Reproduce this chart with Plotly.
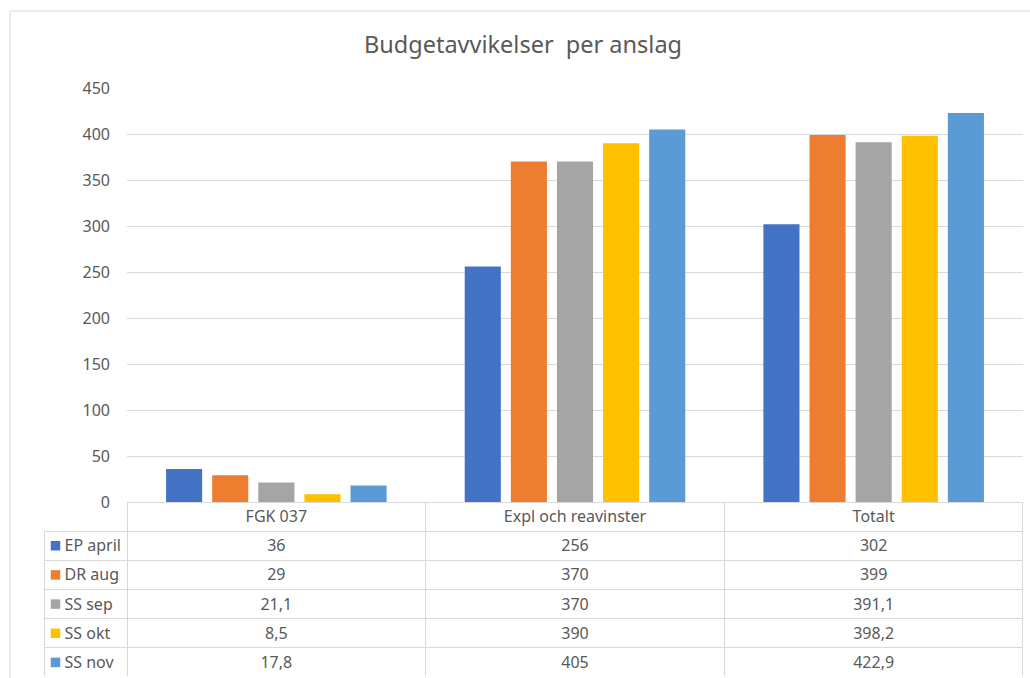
import plotly.graph_objects as go

categories = ["FGK 037", "Expl och reavinster", "Totalt"]
series_names = ["EP april", "DR aug", "SS sep", "SS okt", "SS nov"]
ep_april = [36, 256, 302]
dr_aug = [29, 370, 399]
ss_sep = [21.1, 370, 391.1]
ss_okt = [8.5, 390, 398.2]
ss_nov = [17.8, 405, 422.9]
colors = ["#4472C4", "#ED7D31", "#A5A5A5", "#FFC000", "#5B9BD5"]
y_ticks = [0, 50, 100, 150, 200, 250, 300, 350, 400, 450]

series_values = [ep_april, dr_aug, ss_sep, ss_okt, ss_nov]

W, H = 1030, 678
ML, MR, MT, MB = 44, 7, 88, 1
plot_w = W - ML - MR
plot_h = H - MT - MB
x_start_px = 127
base_px = 502
x_dom0 = (x_start_px - ML) / plot_w
y_dom0 = (H - MB - base_px) / plot_h
n_rows = len(series_names) + 1
row_h = (H - MB - base_px) / n_rows

TXT = "#595959"
GRID = "#d9d9d9"
FONT = "Noto Sans"
NB = "\u00a0"
FS = 16

fig = go.Figure()
for name, vals, col in zip(series_names, series_values, colors):
    fig.add_trace(go.Bar(x=categories, y=vals, name=name, marker=dict(color=col, line=dict(width=0)),
                         xaxis="x", yaxis="y", showlegend=False))

def fmt(v):
    return ("%g" % v).replace(".", ",")

row_labels = [NB * 3 + n.replace(" ", NB) for n in series_names]
cols = [row_labels]
for ci in range(len(categories)):
    cols.append([fmt(s[ci]) for s in series_values])

cw = (W - MR - x_start_px) / 3
fig.add_trace(go.Table(
    domain=dict(x=[0, 1], y=[0, y_dom0]),
    columnwidth=[x_start_px - ML, cw, cw, cw],
    header=dict(values=[""] + categories,
                align=["left", "center", "center", "center"],
                fill=dict(color="rgba(0,0,0,0)"),
                line=dict(color=["white", GRID, GRID, GRID], width=[0, 1, 1, 1]),
                font=dict(family=FONT, size=FS, color=TXT),
                height=row_h),
    cells=dict(values=cols,
               align=["left", "center", "center", "center"],
               fill=dict(color="rgba(0,0,0,0)"),
               line=dict(color=GRID, width=1),
               font=dict(family=FONT, size=FS, color=TXT),
               height=row_h),
))

# legend keys of the data table, on a hidden axis pair spanning the table's first column
fig.add_trace(go.Scatter(
    x=[11.5] * len(series_names), y=[i + 0.5 for i in range(len(series_names))],
    mode="markers", marker=dict(symbol="square", size=9.5, color=colors, line=dict(width=0)),
    xaxis="x2", yaxis="y2", showlegend=False, hoverinfo="skip", cliponaxis=False))

# outer chart border (left and top)
bx = (10 - ML) / plot_w
by = (H - MB - 11) / plot_h
fig.add_shape(type="line", xref="paper", yref="paper", x0=bx, x1=bx, y0=-0.01, y1=by,
              line=dict(color=GRID, width=1))
fig.add_shape(type="line", xref="paper", yref="paper", x0=bx, x1=1.02, y0=by, y1=by,
              line=dict(color=GRID, width=1))

fig.update_layout(
    template="none",
    width=W, height=H, autosize=False,
    margin=dict(l=ML, r=MR, t=MT, b=MB, pad=0, autoexpand=False),
    paper_bgcolor="white", plot_bgcolor="white",
    barmode="group", bargap=0.228, bargroupgap=0.217,
    title=dict(text="Budgetavvikelser" + NB + " per anslag", x=523 / W, xref="container", xanchor="center",
               y=1 - 45 / H, yref="container", yanchor="middle",
               font=dict(family=FONT, size=23.5, color=TXT)),
    font=dict(family=FONT, color=TXT),
    xaxis=dict(domain=[x_dom0, 1], anchor="y", showticklabels=False, showgrid=False, automargin=False,
               showline=True, linecolor=GRID, linewidth=1, ticks="", zeroline=False),
    yaxis=dict(domain=[y_dom0, 1], anchor="x", range=[0, 450], tickvals=y_ticks, automargin=False,
               showgrid=True, gridcolor=GRID, gridwidth=1, zeroline=False, showline=False,
               ticks="", ticklabelstandoff=16, tickfont=dict(family=FONT, size=FS, color=TXT)),
    xaxis2=dict(domain=[0, x_dom0], anchor="y2", range=[0, x_start_px - ML], visible=False, automargin=False),
    yaxis2=dict(domain=[0, y_dom0], anchor="x2", range=[len(series_names), -1], visible=False, automargin=False),
)

fig.write_html("out.html", config={"displayModeBar": False},
               post_script="document.body.style.margin='0';document.body.style.overflow='hidden';")
